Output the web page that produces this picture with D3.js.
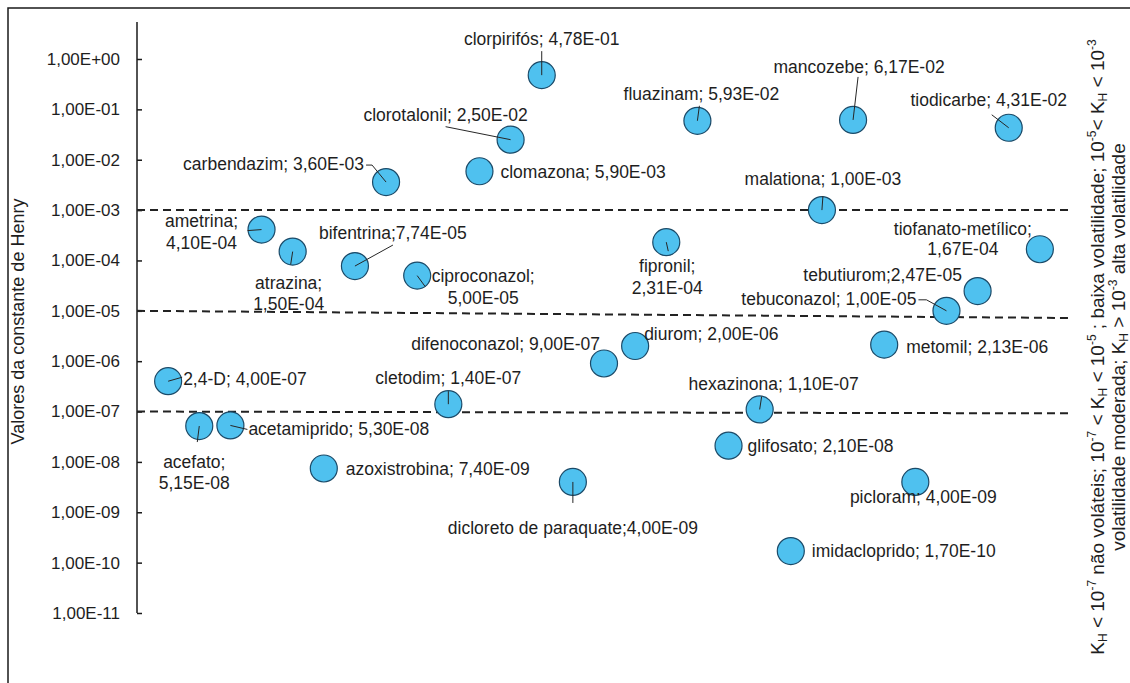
<!DOCTYPE html>
<html>
<head>
<meta charset="utf-8">
<script src="https://cdn.jsdelivr.net/npm/d3@7"></script>
<style>
  html, body { margin: 0; padding: 0; background: #fff; }
  svg text { font-family: "Liberation Sans", Arial, sans-serif; fill: #1e1e1e; }
</style>
</head>
<body>
<svg id="chart" width="1130" height="683"></svg>
<script>
// Henry's law constants (K_H) of pesticide active ingredients, alphabetical order
const compounds = [
  "2,4-D", "acefato", "acetamiprido", "ametrina", "atrazina", "azoxistrobina",
  "bifentrina", "carbendazim", "ciproconazol", "cletodim", "clomazona",
  "clorotalonil", "clorpirifós", "dicloreto de paraquate", "difenoconazol",
  "diurom", "fipronil", "fluazinam", "glifosato", "hexazinona", "imidacloprido",
  "malationa", "mancozebe", "metomil", "picloram", "tebuconazol", "tebutiurom",
  "tiodicarbe", "tiofanato-metílico"
];
const henryConstant = [
  4.00e-7, 5.15e-8, 5.30e-8, 4.10e-4, 1.50e-4, 7.40e-9,
  7.74e-5, 3.60e-3, 5.00e-5, 1.40e-7, 5.90e-3,
  2.50e-2, 4.78e-1, 4.00e-9, 9.00e-7,
  2.00e-6, 2.31e-4, 5.93e-2, 2.10e-8, 1.10e-7, 1.70e-10,
  1.00e-3, 6.17e-2, 2.13e-6, 4.00e-9, 1.00e-5, 2.47e-5,
  4.31e-2, 1.67e-4
];
const yTickValues = [1e0, 1e-1, 1e-2, 1e-3, 1e-4, 1e-5, 1e-6, 1e-7, 1e-8, 1e-9, 1e-10, 1e-11];
// volatility class boundaries (dashed guides), value at the left and right end
const boundaryStart = [1e-3, 1e-5, 1e-7];
const boundaryEnd   = [1e-3, 7.2e-6, 9.2e-8];

// label placement relative to each point: anchor, dx, dy per line, leader path
const labelPlacement = {
  "2,4-D":              { a: "start",  dx: 15,  dy: [-3],      lead: [[14, -4]] },
  "acefato":            { a: "middle", dx: -5,  dy: [36, 57],  lead: [[-2, 16]] },
  "acetamiprido":       { a: "start",  dx: 18,  dy: [3],       lead: [[17, 4]] },
  "ametrina":           { a: "middle", dx: -60, dy: [-9, 13],  lead: [[-14, 1]] },
  "atrazina":           { a: "middle", dx: -4,  dy: [31, 52],  lead: [[-2, 13]] },
  "azoxistrobina":      { a: "start",  dx: 22,  dy: [0] },
  "bifentrina":         { a: "start",  dx: -36, dy: [-33],     lead: [[38, -21]], tight: true },
  "carbendazim":        { a: "end",    dx: -22, dy: [-18],     lead: [[-14, -17], [-20, -17]] },
  "ciproconazol":       { a: "middle", dx: 66,  dy: [0, 22],   lead: [[8, 11]] },
  "cletodim":           { a: "middle", dx: 0,   dy: [-26],     lead: [[0, -13]] },
  "clomazona":          { a: "start",  dx: 21,  dy: [0] },
  "clorotalonil":       { a: "middle", dx: -65, dy: [-25],     lead: [[-65, -13]] },
  "clorpirifós":        { a: "middle", dx: 0,   dy: [-36],     lead: [[0, -24]] },
  "dicloreto de paraquate": { a: "middle", dx: 0, dy: [46],    lead: [[0, 21]], tight: true },
  "difenoconazol":      { a: "end",    dx: -4,  dy: [-20] },
  "diurom":             { a: "start",  dx: 9,   dy: [-12] },
  "fipronil":           { a: "middle", dx: 1,   dy: [24, 46],  lead: [[2, 9]] },
  "fluazinam":          { a: "middle", dx: 4,   dy: [-27],     lead: [[2, -15]] },
  "glifosato":          { a: "start",  dx: 19,  dy: [0] },
  "hexazinona":         { a: "middle", dx: 14,  dy: [-26],     lead: [[2, -13]] },
  "imidacloprido":      { a: "start",  dx: 21,  dy: [0] },
  "malationa":          { a: "middle", dx: 1,   dy: [-31],     lead: [[1, -14]] },
  "mancozebe":          { a: "middle", dx: 6,   dy: [-53],     lead: [[5, -43]] },
  "metomil":            { a: "start",  dx: 22,  dy: [2] },
  "picloram":           { a: "middle", dx: 8,   dy: [15] },
  "tebuconazol":        { a: "end",    dx: -30, dy: [-12],     lead: [[-20, -11], [-28, -11]] },
  "tebutiurom":         { a: "middle", dx: -95, dy: [-16],     tight: true },
  "tiodicarbe":         { a: "middle", dx: -20, dy: [-28],     lead: [[-17, -13]] },
  "tiofanato-metílico": { a: "middle", dx: -77, dy: [-21, -1] }
};

const points = compounds.map((name, i) => ({ name, value: henryConstant[i], index: i + 1 }));

// scientific notation with decimal comma, e.g. 4,78E-01
function sci(v) {
  const [m, e] = v.toExponential(2).split("e");
  const n = +e;
  return m.replace(".", ",") + "E" + (n < 0 ? "-" : "+") + String(Math.abs(n)).padStart(2, "0");
}

const svg = d3.select("#chart");

const x = d3.scaleLinear().domain([0, 30]).range([137, 1071]);
const y = d3.scaleLog().domain([1e-11, 1]).range([613, 59]);
const axisTop = 22;

// outer frame
svg.append("path")
  .attr("d", "M8,683 V8 H1130")
  .attr("fill", "none").attr("stroke", "#1a1a1a").attr("stroke-width", 1.5);

// y axis: ticks point inward, labels on the left
const yAxis = d3.axisLeft(y)
  .tickValues(yTickValues)
  .tickFormat(sci)
  .tickSizeInner(-5)
  .tickSizeOuter(0)
  .tickPadding(17);

const gAxis = svg.append("g").attr("transform", `translate(${x(0)},0)`).call(yAxis);
gAxis.select(".domain").remove();
gAxis.selectAll(".tick line").attr("stroke", "#1a1a1a").attr("stroke-width", 1.5);
gAxis.selectAll(".tick text")
  .attr("font-size", 17)
  .attr("font-family", "Liberation Sans, Arial, sans-serif")
  .style("fill", "#1e1e1e");
gAxis.append("line")
  .attr("x1", 0).attr("x2", 0)
  .attr("y1", axisTop).attr("y2", y(1e-11))
  .attr("stroke", "#1a1a1a").attr("stroke-width", 1.5);

// y axis title
svg.append("text")
  .attr("transform", `translate(24,${(y(1e-11) + axisTop) / 2 + 4}) rotate(-90)`)
  .attr("text-anchor", "middle")
  .attr("font-size", 18)
  .text("Valores da constante de Henry");

// volatility class boundaries
svg.append("g").selectAll("line")
  .data(boundaryStart)
  .join("line")
  .attr("x1", x(0))
  .attr("x2", x(30))
  .attr("y1", d => y(d))
  .attr("y2", (d, i) => y(boundaryEnd[i]))
  .attr("stroke", "#222")
  .attr("stroke-width", 2)
  .attr("stroke-dasharray", "8,5");

// points
svg.append("g").selectAll("circle")
  .data(points)
  .join("circle")
  .attr("cx", d => x(d.index))
  .attr("cy", d => y(d.value))
  .attr("r", 13.5)
  .attr("fill", "#4fc1ef")
  .attr("stroke", "#1b4a68")
  .attr("stroke-width", 1.2);

// leader lines from point centre to label
svg.append("g").selectAll("path")
  .data(points.filter(d => labelPlacement[d.name].lead))
  .join("path")
  .attr("d", d => {
    const cx = x(d.index), cy = y(d.value);
    return "M" + cx + "," + cy +
      labelPlacement[d.name].lead.map(([lx, ly]) => "L" + (cx + lx) + "," + (cy + ly)).join("");
  })
  .attr("fill", "none")
  .attr("stroke", "#262626")
  .attr("stroke-width", 1);

// data labels: "name; value", some split over two lines
const labels = svg.append("g").attr("font-size", 17.5);
points.forEach(d => {
  const p = labelPlacement[d.name];
  const sep = p.tight ? ";" : "; ";
  const lines = p.dy.length > 1 ? [d.name + ";", sci(d.value)] : [d.name + sep + sci(d.value)];
  const cx = x(d.index), cy = y(d.value);
  lines.forEach((t, k) => {
    labels.append("text")
      .attr("x", cx + p.dx)
      .attr("y", cy + p.dy[k])
      .attr("dy", "0.36em")
      .attr("text-anchor", p.a)
      .text(t);
  });
});

// legend of volatility classes, rotated along the right edge
const legendLines = [
  [
    { t: "K" }, { t: "H", s: "sub" }, { t: " < 10" }, { t: "-7", s: "sup" },
    { t: " não voláteis; 10" }, { t: "-7", s: "sup" }, { t: " < K" }, { t: "H", s: "sub" },
    { t: " < 10" }, { t: "-5", s: "sup" }, { t: " ; baixa volatilidade; 10" }, { t: "-5", s: "sup" },
    { t: "< K" }, { t: "H", s: "sub" }, { t: " < 10" }, { t: "-3", s: "sup" }
  ],
  [
    { t: "volatilidade moderada; K" }, { t: "H", s: "sub" }, { t: " > 10" }, { t: "-3", s: "sup" },
    { t: " alta volatilidade" }
  ]
];
const legendX = [1104, 1125];
const legendY = 347;
legendLines.forEach((segs, li) => {
  const txt = svg.append("text")
    .attr("transform", `translate(${legendX[li]},${legendY}) rotate(-90)`)
    .attr("text-anchor", "middle")
    .attr("font-size", 19);
  let shift = 0;
  segs.forEach(sg => {
    const target = sg.s === "sup" ? -8 : sg.s === "sub" ? 3 : 0;
    txt.append("tspan")
      .attr("dy", target - shift)
      .attr("font-size", sg.s ? 12 : 19)
      .text(sg.t);
    shift = target;
  });
});
</script>
</body>
</html>
